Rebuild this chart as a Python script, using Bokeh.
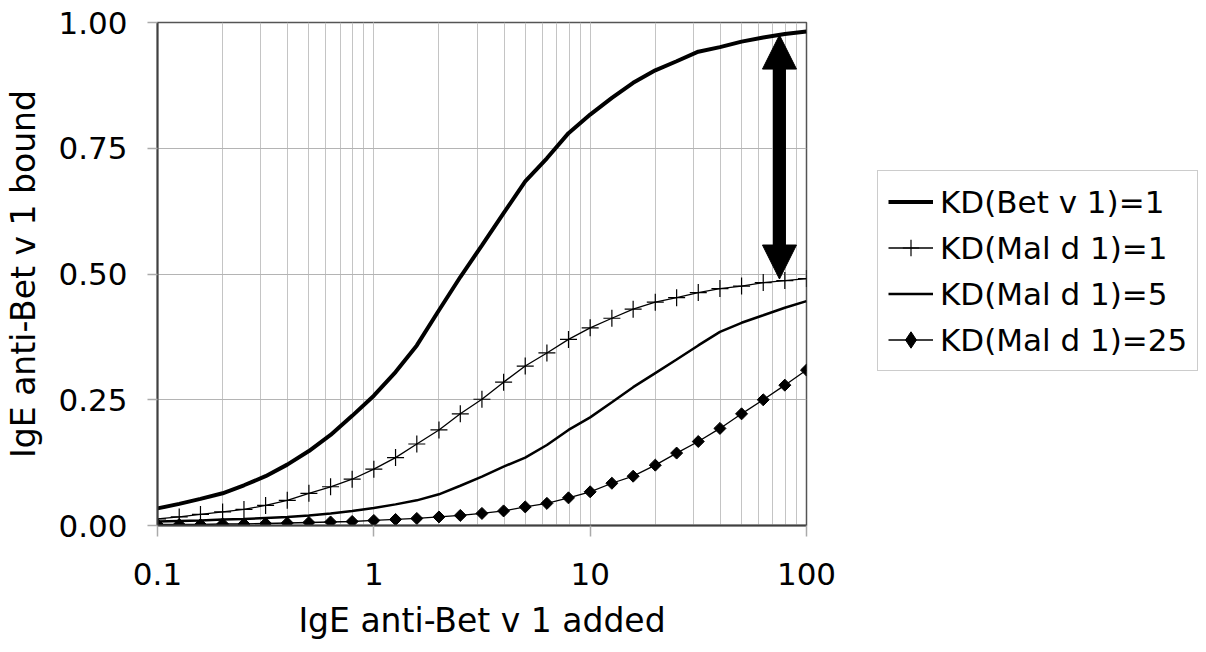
import math
from bokeh.plotting import figure
from bokeh.models import (Range1d, FixedTicker, CustomJSTickFormatter, Legend, LegendItem,
                          Arrow, NormalHead, LogTicker)
from bokeh.embed import file_html
from bokeh.resources import INLINE

ige_added = [0.1, 0.126, 0.158, 0.2, 0.251, 0.316, 0.398, 0.501, 0.631, 0.794,
             1, 1.26, 1.58, 2, 2.51, 3.16, 3.98, 5.01, 6.31, 7.94,
             10, 12.6, 15.8, 20, 25.1, 31.6, 39.8, 50.1, 63.1, 79.4, 100]

kd_bet1 = [0.034, 0.043, 0.053, 0.064, 0.080, 0.098, 0.121, 0.148, 0.180, 0.218,
           0.258, 0.305, 0.358, 0.428, 0.494, 0.557, 0.621, 0.684, 0.730, 0.780,
           0.817, 0.850, 0.880, 0.905, 0.923, 0.942, 0.951, 0.962, 0.970, 0.977, 0.982]

kd_mal1 = [0.013, 0.017, 0.022, 0.027, 0.032, 0.040, 0.050, 0.064, 0.077, 0.092,
           0.112, 0.135, 0.162, 0.190, 0.222, 0.251, 0.285, 0.317, 0.343, 0.370,
           0.393, 0.412, 0.430, 0.444, 0.453, 0.463, 0.471, 0.476, 0.483, 0.487, 0.491]

kd_mal5 = [0.008, 0.009, 0.010, 0.012, 0.013, 0.015, 0.017, 0.020, 0.024, 0.029,
           0.035, 0.042, 0.050, 0.062, 0.079, 0.097, 0.117, 0.135, 0.160, 0.190,
           0.215, 0.245, 0.275, 0.303, 0.330, 0.358, 0.385, 0.403, 0.418, 0.433, 0.446]

kd_mal25 = [0.002, 0.002, 0.002, 0.003, 0.003, 0.004, 0.005, 0.006, 0.007, 0.008,
            0.010, 0.012, 0.014, 0.017, 0.020, 0.024, 0.029, 0.037, 0.044, 0.055,
            0.067, 0.084, 0.098, 0.120, 0.144, 0.167, 0.193, 0.222, 0.250, 0.279, 0.309]

labels = ["KD(Bet v 1)=1", "KD(Mal d 1)=1", "KD(Mal d 1)=5", "KD(Mal d 1)=25"]
y_ticks = [0, 0.25, 0.5, 0.75, 1.0]
arrow_x = 75
arrow_y = [0.49, 0.975]

FONT = "DejaVu Sans"

p = figure(frame_width=649, frame_height=503, x_axis_type="log",
           x_range=Range1d(0.1, 100), y_range=Range1d(0, 1),
           output_backend="svg", toolbar_location=None,
           min_border_left=157, min_border_top=22, min_border_bottom=120,
           min_border_right=0)

p.background_fill_color = "white"
p.border_fill_color = "white"
p.outline_line_color = "#555555"
p.outline_line_width = 1.5

# grids
p.xgrid.grid_line_color = "#c4c4c4"
p.xgrid.grid_line_width = 1
p.xgrid.minor_grid_line_color = "#c4c4c4"
p.xgrid.minor_grid_line_width = 1
p.ygrid.grid_line_color = "#b4b4b4"
p.ygrid.grid_line_width = 1

# axes
p.xaxis.ticker = LogTicker(num_minor_ticks=10)
p.xaxis.formatter = CustomJSTickFormatter(code="return tick >= 1 ? tick.toFixed(0) : tick.toFixed(1);")
p.yaxis.ticker = FixedTicker(ticks=y_ticks)
p.yaxis.formatter = CustomJSTickFormatter(code="return tick.toFixed(2);")

for ax in (p.xaxis[0], p.yaxis[0]):
    ax.axis_line_color = "#404040"
    ax.axis_line_width = 2
    ax.major_tick_line_color = "#aaaaaa"
    ax.major_tick_line_width = 1.5
    ax.major_tick_in = 0
    ax.minor_tick_in = 0
    ax.minor_tick_out = 0
    ax.major_label_text_font = FONT
    ax.major_label_text_color = "black"
    ax.axis_label_text_font = FONT
    ax.axis_label_text_font_style = "normal"
    ax.axis_label_text_color = "black"

p.xaxis.major_tick_out = 11
p.yaxis.major_tick_out = 10
p.xaxis.major_label_text_font_size = "31px"
p.yaxis.major_label_text_font_size = "31px"
p.xaxis.major_label_standoff = 26
p.yaxis.major_label_standoff = 20
p.xaxis.axis_label = "IgE anti-Bet v 1 added"
p.yaxis.axis_label = "IgE anti-Bet v 1 bound"
p.xaxis.axis_label_text_font_size = "33px"
p.yaxis.axis_label_text_font_size = "33px"
p.xaxis.axis_label_standoff = 13
p.yaxis.axis_label_standoff = 12

# series
r_bet = p.line(ige_added, kd_bet1, line_color="black", line_width=4)
r_m1 = p.line(ige_added, kd_mal1, line_color="black", line_width=1.3)
r_m1s = p.scatter(ige_added, kd_mal1, marker="cross", size=17, line_color="black", line_width=1.2)
r_m5 = p.line(ige_added, kd_mal5, line_color="black", line_width=2.5)
r_m25 = p.line(ige_added, kd_mal25, line_color="black", line_width=1.3)
r_m25s = p.scatter(ige_added, kd_mal25, marker="square", angle=math.pi / 4, size=8.5,
                   fill_color="black", line_color="black", line_width=1)
# legend-only glyph (diamond) for the last series; hidden in the plot
r_m25leg = p.scatter(ige_added, kd_mal25, marker="diamond", size=13,
                     fill_color="black", line_color="black", line_width=1, visible=False)

# double-headed arrow
p.add_layout(Arrow(x_start=arrow_x, y_start=arrow_y[0], x_end=arrow_x, y_end=arrow_y[1],
                   line_color="black", line_width=13,
                   start=NormalHead(size=34, fill_color="black", line_color="black", line_width=1),
                   end=NormalHead(size=34, fill_color="black", line_color="black", line_width=1)))

legend = Legend(items=[
    LegendItem(label=labels[0], renderers=[r_bet]),
    LegendItem(label=labels[1], renderers=[r_m1, r_m1s]),
    LegendItem(label=labels[2], renderers=[r_m5]),
    LegendItem(label=labels[3], renderers=[r_m25, r_m25leg]),
], location=(71, 154))
legend.label_text_font = FONT
legend.label_text_font_size = "31px"
legend.label_text_color = "black"
legend.border_line_color = "#999999"
legend.border_line_width = 1
legend.background_fill_alpha = 1
legend.inactive_fill_alpha = 0
legend.padding = 10
legend.spacing = 5
legend.label_height = 41
legend.glyph_height = 41
legend.glyph_width = 45
legend.label_standoff = 7
legend.margin = 0
p.add_layout(legend, "right")

open("out.html", "w").write(file_html(p, INLINE))
